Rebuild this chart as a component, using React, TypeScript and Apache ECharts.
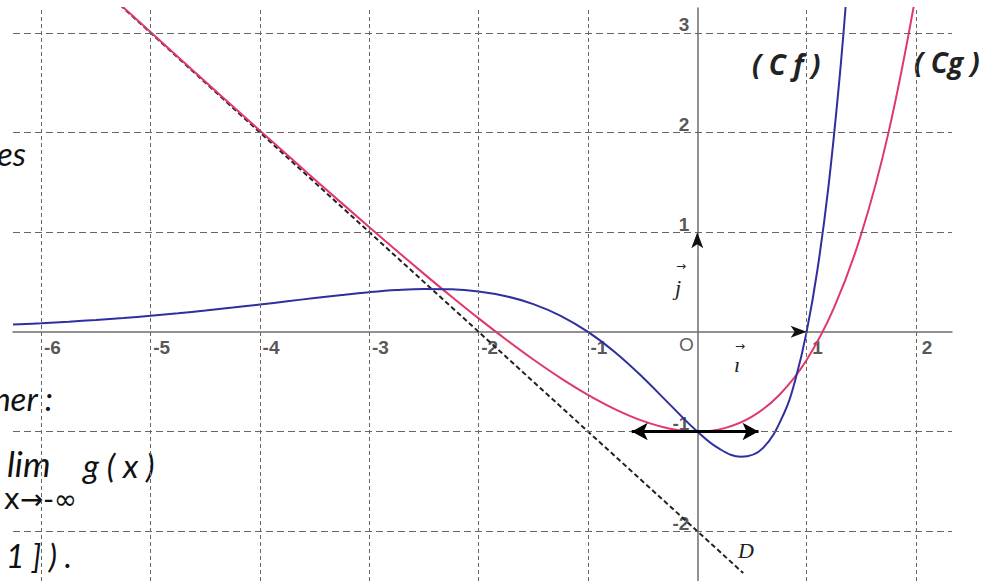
import React, { useEffect, useRef } from "react";
import * as echarts from "echarts";

// Axis ticks
const xTicks = [-6, -5, -4, -3, -2, -1, 1, 2];
const xTickLabels = ["-6", "-5", "-4", "-3", "-2", "-1", "1", "2"];
const yTicks = [-2, -1, 1, 2, 3];
const yTickLabels = ["-2", "-1", "1", "2", "3"];

// Curve (Cf) – blue
const fX = [-6.26, -6, -5.75, -5.5, -5.25, -5, -4.75, -4.5, -4.25, -4, -3.75, -3.5, -3.25, -3, -2.75, -2.5, -2.25, -2, -1.75, -1.5, -1.25, -1, -0.75, -0.5, -0.25, 0, 0.2, 0.4, 0.6, 0.8, 0.9, 1, 1.1, 1.2, 1.3, 1.36];
const fY = [0.073, 0.0868, 0.1021, 0.1195, 0.1394, 0.1617, 0.1866, 0.2138, 0.2434, 0.2747, 0.3072, 0.3397, 0.3708, 0.3983, 0.4195, 0.4309, 0.4282, 0.406, 0.3584, 0.2789, 0.1612, 0, -0.2067, -0.4549, -0.7301, -1, -1.1725, -1.2531, -1.1662, -0.8012, -0.4673, 0, 0.6309, 1.4609, 2.5318, 3.31];

// Curve (Cg) – red
const gX = [-5.3, -5, -4.5, -4, -3.5, -3, -2.75, -2.5, -2.25, -2, -1.75, -1.5, -1.25, -1, -0.75, -0.5, -0.25, 0, 0.25, 0.5, 0.75, 1, 1.25, 1.5, 1.75, 2];
const gY = [3.305, 3.0067, 2.5111, 2.0183, 1.5302, 1.0498, 0.8139, 0.5821, 0.3554, 0.1353, -0.0762, -0.2769, -0.4635, -0.6321, -0.7776, -0.8935, -0.9712, -1, -0.966, -0.8513, -0.633, -0.2817, 0.2403, 0.9817, 2.0046, 3.3891];

// Asymptote D
const dX = [-5.28, 0.42];
const dY = [3.28, -2.42];

// Horizontal tangent at the minimum of (Cg)
const tangentX = [-0.6, 0.56];
const tangentY = [-1, -1];

const zip = (a: number[], b: number[]) => a.map((v, i) => [v, b[i]]);

export default function App() {
  const ref = useRef<HTMLDivElement>(null);
  useEffect(() => {
    document.body.style.margin = "0";
    const chart = echarts.init(ref.current!, null, { renderer: "svg" });
    const axisColor = "#6e6e6e";
    const tickFont = {
      fontFamily: "Liberation Sans",
      fontWeight: "bold" as const,
      fontSize: 19,
      color: "#2a2a2a",
    };
    const pageFont = "Lato";
    chart.setOption({
      animation: false,
      backgroundColor: "#fff",
      grid: { left: 13, right: 40, top: 8, bottom: 0 },
      xAxis: {
        type: "value",
        min: -6.26,
        max: 2.33,
        axisLine: { show: true, onZero: true, lineStyle: { color: axisColor, width: 1.5 } },
        axisTick: { show: false },
        axisLabel: { show: false },
        splitLine: { show: false },
      },
      yAxis: {
        type: "value",
        min: -2.5,
        max: 3.25,
        axisLine: { show: true, onZero: true, lineStyle: { color: axisColor, width: 1.5 } },
        axisTick: { show: false },
        axisLabel: { show: false },
        splitLine: { show: false },
      },
      series: [
        {
          type: "line",
          data: [],
          silent: true,
          markLine: {
            silent: true,
            symbol: "none",
            label: { show: false },
            lineStyle: { type: [4, 3], color: "#666", width: 1 },
            data: xTicks.map((v) => ({ xAxis: v })),
          },
        },
        {
          type: "line",
          data: [],
          silent: true,
          markLine: {
            silent: true,
            symbol: "none",
            label: { show: false },
            lineStyle: { type: [7, 4], color: "#666", width: 1 },
            data: yTicks.map((v) => ({ yAxis: v })),
          },
        },
        {
          type: "line",
          data: zip(dX, dY),
          showSymbol: false,
          lineStyle: { color: "#222", width: 2, type: [5, 3] },
        },
        {
          type: "line",
          data: zip(gX, gY),
          smooth: 0.4,
          showSymbol: false,
          lineStyle: { color: "#e0386a", width: 2 },
        },
        {
          type: "line",
          data: zip(fX, fY),
          smooth: 0.4,
          showSymbol: false,
          lineStyle: { color: "#2f2fa0", width: 2 },
        },
        {
          type: "line",
          data: [],
          markLine: {
            silent: true,
            symbol: ["none", "arrow"],
            symbolSize: [9, 16],
            label: { show: false },
            lineStyle: { type: "solid", color: "#111", width: 0 },
            data: [
              [{ coord: [0, 0] }, { coord: [1, 0] }],
              [{ coord: [0, 0] }, { coord: [0, 1] }],
            ],
          },
        },
        {
          type: "line",
          data: [],
          markLine: {
            silent: true,
            symbol: ["arrow", "arrow"],
            symbolSize: [13, 16],
            label: { show: false },
            lineStyle: { type: "solid", color: "#000", width: 3 },
            data: [[{ coord: [tangentX[0], tangentY[0]] }, { coord: [tangentX[1], tangentY[1]] }]],
          },
        },
        {
          type: "scatter",
          symbolSize: 1,
          itemStyle: { color: "rgba(0,0,0,0)" },
          data: xTicks.map((v, i) => ({ value: [v, 0], name: xTickLabels[i] })),
          label: {
            show: true,
            formatter: "{b}",
            position: "inside",
            offset: [11, 16],
            align: "center",
            verticalAlign: "middle",
            ...tickFont,
          },
        },
        {
          type: "scatter",
          symbolSize: 1,
          itemStyle: { color: "rgba(0,0,0,0)" },
          data: yTicks.map((v, i) => ({ value: [0, v], name: yTickLabels[i] })),
          label: {
            show: true,
            formatter: "{b}",
            position: "inside",
            offset: [-8, -8],
            align: "right",
            verticalAlign: "middle",
            ...tickFont,
          },
        },
        {
          type: "scatter",
          symbolSize: 1,
          itemStyle: { color: "rgba(0,0,0,0)" },
          data: [{ value: [0, 0], name: "O" }],
          label: {
            show: true,
            formatter: "{b}",
            position: "inside",
            offset: [-11, 13],
            align: "center",
            verticalAlign: "middle",
            fontFamily: "Liberation Sans",
            fontSize: 19,
            color: "#333",
          },
        },
      ],
      graphic: [
        { type: "text", left: 752, top: 50, style: { text: "( C f )", font: "italic bold 28px 'Open Sans'", fill: "#222" } },
        { type: "text", left: 914, top: 48, style: { text: "( Cg )", font: "italic bold 28px 'Open Sans'", fill: "#222" } },
        { type: "text", x: 746, y: 550, style: { text: "D", font: "italic 22px 'Liberation Serif'", fill: "#222", align: "center", verticalAlign: "middle" } },
        { type: "text", x: 678, y: 287, style: { text: "j", font: "italic 22px 'Liberation Serif'", fill: "#222", align: "center", verticalAlign: "middle" } },
        { type: "text", x: 681, y: 266, style: { text: "→", font: "12px 'DejaVu Sans'", fill: "#222", align: "center", verticalAlign: "middle" } },
        { type: "text", x: 737, y: 364, style: { text: "ı", font: "italic 22px 'Liberation Serif'", fill: "#222", align: "center", verticalAlign: "middle" } },
        { type: "text", x: 740, y: 346, style: { text: "→", font: "12px 'DejaVu Sans'", fill: "#222", align: "center", verticalAlign: "middle" } },
        { type: "text", x: 26, y: 153, style: { text: "es", font: `italic 33px ${pageFont}`, fill: "#111", align: "right", verticalAlign: "middle" } },
        { type: "text", x: 53, y: 398, style: { text: "ner :", font: `italic 33px ${pageFont}`, fill: "#111", align: "right", verticalAlign: "middle" } },
        { type: "text", x: 7, y: 463, style: { text: "lim", font: `italic 35px ${pageFont}`, fill: "#111", align: "left", verticalAlign: "middle" } },
        { type: "text", x: 83, y: 465, style: { text: "g ( x )", font: `italic 33px ${pageFont}`, fill: "#111", align: "left", verticalAlign: "middle" } },
        { type: "text", x: 77, y: 499, style: { text: "x→-∞", font: "28px 'DejaVu Sans'", fill: "#111", align: "right", verticalAlign: "middle" } },
        { type: "text", x: 72, y: 555, style: { text: "1 ] ) .", font: `italic 32px ${pageFont}`, fill: "#111", align: "right", verticalAlign: "middle" } },
      ],
    });
    return () => chart.dispose();
  }, []);
  return <div ref={ref} style={{ width: 992, height: 581 }} />;
}
